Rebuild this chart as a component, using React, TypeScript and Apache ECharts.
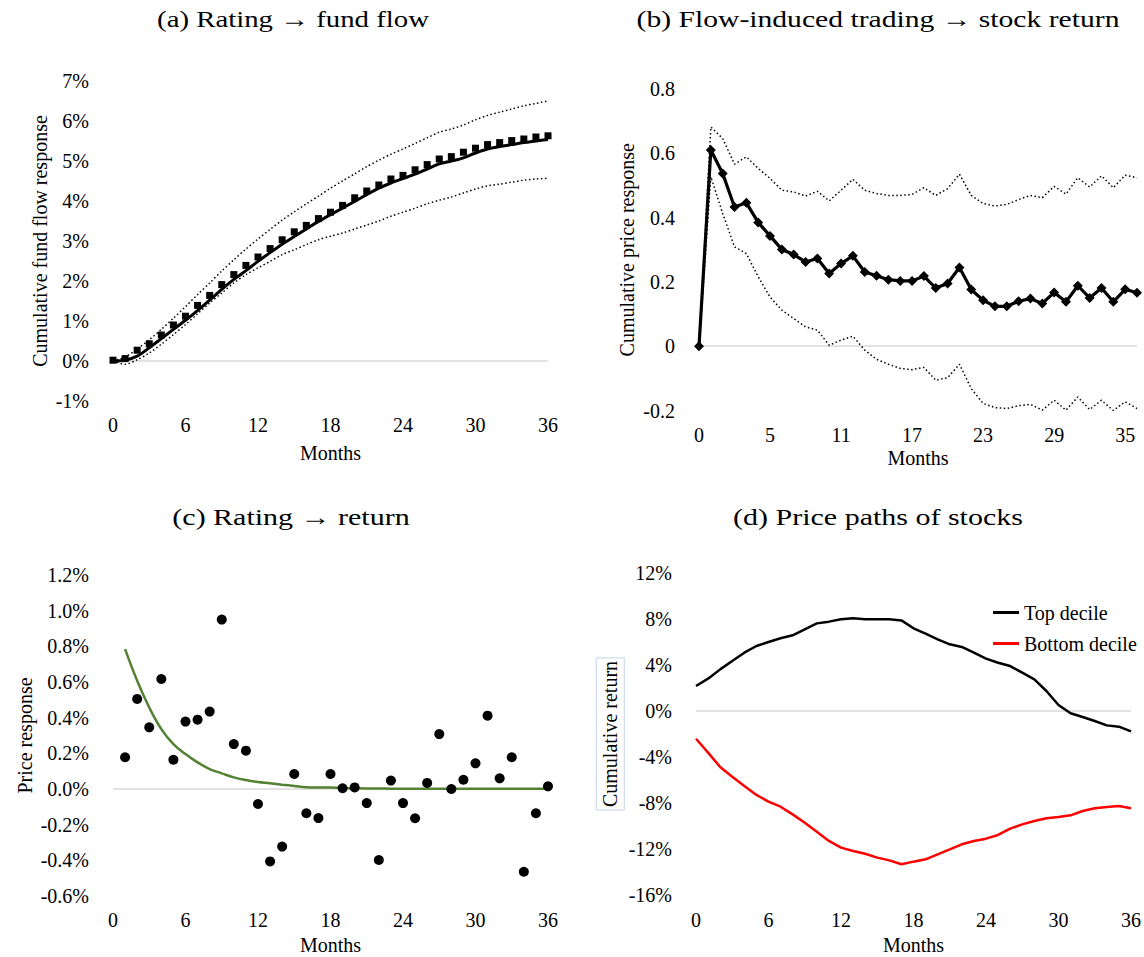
import React, { useEffect, useRef } from "react";
import * as echarts from "echarts";

const FONT = "'Liberation Serif', 'Times New Roman', serif";

// ---- shared month axis
const months = [0, 1, 2, 3, 4, 5, 6, 7, 8, 9, 10, 11, 12, 13, 14, 15, 16, 17, 18, 19, 20, 21, 22, 23, 24, 25, 26, 27, 28, 29, 30, 31, 32, 33, 34, 35, 36];
const monthsFrom1 = months.slice(1);

// ---- (a) Rating -> fund flow (percent)
const flowMarkers = [0.02, 0.06, 0.27, 0.43, 0.65, 0.9, 1.12, 1.39, 1.64, 1.91, 2.16, 2.39, 2.6, 2.81, 3.03, 3.23, 3.39, 3.56, 3.72, 3.89, 4.08, 4.25, 4.4, 4.55, 4.64, 4.78, 4.91, 5.05, 5.11, 5.22, 5.32, 5.41, 5.46, 5.51, 5.55, 5.6, 5.63];
const flowLine = [0, 0.02, 0.12, 0.33, 0.56, 0.79, 1.02, 1.26, 1.52, 1.79, 2.04, 2.26, 2.49, 2.71, 2.92, 3.11, 3.3, 3.49, 3.66, 3.82, 3.99, 4.16, 4.32, 4.45, 4.56, 4.67, 4.8, 4.93, 5.0, 5.08, 5.2, 5.3, 5.36, 5.41, 5.46, 5.5, 5.54];
const flowUpper = [0, 0.1, 0.3, 0.53, 0.79, 1.07, 1.36, 1.66, 1.95, 2.25, 2.53, 2.8, 3.05, 3.29, 3.52, 3.73, 3.93, 4.12, 4.32, 4.5, 4.68, 4.86, 5.02, 5.17, 5.3, 5.44, 5.58, 5.72, 5.8, 5.9, 6.03, 6.14, 6.22, 6.3, 6.38, 6.44, 6.5];
const flowLower = [0, -0.08, 0.03, 0.2, 0.42, 0.66, 0.91, 1.18, 1.45, 1.7, 1.95, 2.16, 2.33, 2.49, 2.66, 2.78, 2.91, 3.03, 3.12, 3.2, 3.3, 3.4, 3.5, 3.62, 3.72, 3.82, 3.93, 4.02, 4.1, 4.2, 4.3, 4.38, 4.42, 4.47, 4.52, 4.55, 4.57];

// ---- (b) Flow-induced trading -> stock return
const tradeCategories = ["0", "0", "1", "2", "3", "4", "5", "6", "7", "8", "9", "10", "11", "12", "13", "14", "15", "16", "17", "18", "19", "20", "21", "22", "23", "24", "25", "26", "27", "28", "29", "30", "31", "32", "33", "34", "35", "36"];
const priceMain = [0, 0.61, 0.537, 0.433, 0.446, 0.385, 0.343, 0.301, 0.285, 0.262, 0.273, 0.226, 0.257, 0.281, 0.231, 0.219, 0.207, 0.203, 0.203, 0.218, 0.181, 0.195, 0.245, 0.176, 0.143, 0.124, 0.124, 0.14, 0.148, 0.133, 0.167, 0.138, 0.188, 0.15, 0.181, 0.138, 0.177, 0.166];
const priceUpper = [0, 0.682, 0.646, 0.566, 0.589, 0.553, 0.522, 0.485, 0.48, 0.467, 0.482, 0.452, 0.485, 0.519, 0.485, 0.475, 0.469, 0.469, 0.472, 0.493, 0.469, 0.49, 0.535, 0.469, 0.444, 0.436, 0.441, 0.456, 0.469, 0.462, 0.497, 0.473, 0.524, 0.495, 0.53, 0.493, 0.532, 0.524];
const priceLower = [0, 0.527, 0.413, 0.309, 0.288, 0.216, 0.153, 0.112, 0.086, 0.06, 0.05, 0.003, 0.019, 0.031, -0.012, -0.041, -0.056, -0.069, -0.073, -0.066, -0.106, -0.098, -0.056, -0.132, -0.178, -0.191, -0.194, -0.185, -0.181, -0.199, -0.168, -0.199, -0.158, -0.197, -0.168, -0.2, -0.173, -0.194];

// ---- (c) Rating -> return (percent), months 1..36
const returnPoints = [0.178, 0.505, 0.346, 0.617, 0.164, 0.378, 0.389, 0.434, 0.95, 0.252, 0.215, -0.084, -0.406, -0.323, 0.084, -0.136, -0.163, 0.084, 0.004, 0.009, -0.079, -0.398, 0.047, -0.079, -0.164, 0.034, 0.308, 0.0, 0.052, 0.144, 0.411, 0.06, 0.178, -0.464, -0.136, 0.015];
const returnFit = [0.784, 0.607, 0.457, 0.336, 0.252, 0.196, 0.149, 0.112, 0.088, 0.065, 0.05, 0.039, 0.032, 0.024, 0.017, 0.01, 0.009, 0.009, 0.006, 0.004, 0.003, 0.003, 0.002, 0.002, 0.002, 0.001, 0.001, 0.001, 0.001, 0.001, 0.001, 0.001, 0.001, 0.001, 0.001, 0.001];

// ---- (d) Price paths of stocks (percent)
const topDecile = [2.17, 2.81, 3.62, 4.35, 5.07, 5.65, 6.0, 6.32, 6.58, 7.1, 7.62, 7.77, 7.97, 8.06, 7.97, 7.97, 7.97, 7.88, 7.19, 6.72, 6.23, 5.8, 5.57, 5.07, 4.55, 4.2, 3.91, 3.33, 2.75, 1.74, 0.52, -0.2, -0.52, -0.87, -1.25, -1.36, -1.77];
const bottomDecile = [-2.41, -3.62, -4.87, -5.71, -6.52, -7.3, -7.88, -8.32, -8.99, -9.71, -10.49, -11.3, -11.88, -12.17, -12.41, -12.75, -12.99, -13.33, -13.1, -12.9, -12.46, -12.03, -11.59, -11.3, -11.1, -10.78, -10.23, -9.86, -9.57, -9.33, -9.22, -9.07, -8.7, -8.46, -8.35, -8.26, -8.46];

const titles = [
  "(a) Rating \u2192 fund flow",
  "(b) Flow-induced trading \u2192 stock return",
  "(c) Rating \u2192 return",
  "(d) Price paths of stocks",
];

const pair = (xs: number[], ys: number[]) => xs.map((x, i) => [x, ys[i]]);

const labelStyle = { fontFamily: FONT, fontSize: 20, color: "#000" };
const dotted = { color: "#000", width: 1.5, type: [1.5, 2.5] as number[] };

function zeroLineSeries(axisIndex: number) {
  return {
    type: "line",
    xAxisIndex: axisIndex,
    yAxisIndex: axisIndex,
    data: [],
    z: 1,
    silent: true,
    markLine: {
      z: 1,
      silent: true,
      symbol: "none",
      label: { show: false },
      lineStyle: { color: "#d9d9d9", width: 1.5, type: "solid" },
      data: [{ yAxis: 0 }],
    },
  };
}

function titleText(text: string, x: number, y: number, scaleX: number) {
  return {
    type: "text",
    x,
    y,
    scaleX,
    style: { text, font: `24px ${FONT}`, fill: "#000", align: "center", verticalAlign: "middle" },
  };
}

function monthXAxis(gridIndex: number, labelMargin: number, nameGap: number) {
  return {
    type: "value",
    gridIndex,
    min: 0,
    max: 36,
    interval: 6,
    splitLine: { show: false },
    axisLine: { show: false },
    axisTick: { show: false },
    axisLabel: { ...labelStyle, margin: labelMargin },
    name: "Months",
    nameLocation: "middle",
    nameGap,
    nameTextStyle: labelStyle,
  };
}

function valueYAxis(gridIndex: number, min: number, max: number, interval: number, fmt: (v: number) => string, name: string, nameGap: number, extraName: any = {}) {
  return {
    type: "value",
    gridIndex,
    min,
    max,
    interval,
    splitLine: { show: false },
    axisLine: { show: false },
    axisTick: { show: false },
    axisLabel: { ...labelStyle, margin: 24, formatter: fmt },
    name,
    nameLocation: "middle",
    nameGap,
    nameTextStyle: { ...labelStyle, ...extraName },
  };
}

const option: any = {
  animation: false,
  backgroundColor: "#fff",
  textStyle: { fontFamily: FONT },
  graphic: [
    titleText(titles[0], 293, 19, 1.2),
    titleText(titles[1], 878, 19, 1.235),
    titleText(titles[2], 291, 517, 1.25),
    titleText(titles[3], 878, 517, 1.25),
  ],
  legend: {
    data: ["Top decile", "Bottom decile"],
    orient: "vertical",
    left: 988,
    top: 597,
    icon: "rect",
    itemWidth: 26,
    itemHeight: 3,
    itemGap: 10,
    textStyle: { ...labelStyle, lineHeight: 21 },
  },
  grid: [
    { left: 113, top: 81, width: 435, height: 320 },
    { left: 699, top: 89, width: 438, height: 321.5 },
    { left: 113, top: 575, width: 435, height: 321 },
    { left: 696, top: 573, width: 437, height: 322 },
  ],
  xAxis: [
    monthXAxis(0, 14, 42),
    {
      type: "category",
      gridIndex: 1,
      data: tradeCategories,
      boundaryGap: false,
      axisLine: { show: false },
      axisTick: { show: false },
      splitLine: { show: false },
      axisLabel: { ...labelStyle, margin: 14, interval: 5 },
      name: "Months",
      nameLocation: "middle",
      nameGap: 37,
      nameTextStyle: labelStyle,
    },
    monthXAxis(2, 14, 39),
    monthXAxis(3, 15, 40),
  ],
  yAxis: [
    valueYAxis(0, -1, 7, 1, (v) => `${Math.round(v)}%`, "Cumulative fund flow response", 63),
    valueYAxis(1, -0.2, 0.8, 0.2, (v) => (Math.abs(v) < 1e-9 ? "0" : v.toFixed(1)), "Cumulative price response", 62),
    valueYAxis(2, -0.6, 1.2, 0.2, (v) => `${(Math.abs(v) < 1e-9 ? 0 : v).toFixed(1)}%`, "Price response", 78),
    valueYAxis(3, -16, 12, 4, (v) => `${Math.round(v)}%`, "Cumulative return", 70, {
      borderColor: "#c5d3ea",
      borderWidth: 1,
      padding: [4, 3, 4, 3],
    }),
  ],
  series: [
    zeroLineSeries(0),
    zeroLineSeries(1),
    zeroLineSeries(2),
    zeroLineSeries(3),
    // (a)
    { type: "line", xAxisIndex: 0, yAxisIndex: 0, data: pair(months, flowUpper), smooth: 0.3, showSymbol: false, lineStyle: dotted, z: 2 },
    { type: "line", xAxisIndex: 0, yAxisIndex: 0, data: pair(months, flowLower), smooth: 0.3, showSymbol: false, lineStyle: dotted, z: 2 },
    { type: "line", xAxisIndex: 0, yAxisIndex: 0, data: pair(months, flowLine), smooth: 0.3, showSymbol: false, lineStyle: { color: "#000", width: 3 }, z: 3 },
    { type: "scatter", xAxisIndex: 0, yAxisIndex: 0, data: pair(months, flowMarkers), symbol: "rect", symbolSize: 7, itemStyle: { color: "#000", opacity: 1 }, z: 4 },
    // (b)
    { type: "line", xAxisIndex: 1, yAxisIndex: 1, data: priceUpper, showSymbol: false, lineStyle: dotted, z: 2 },
    { type: "line", xAxisIndex: 1, yAxisIndex: 1, data: priceLower, showSymbol: false, lineStyle: dotted, z: 2 },
    { type: "line", xAxisIndex: 1, yAxisIndex: 1, data: priceMain, symbol: "diamond", symbolSize: 10, showAllSymbol: true, itemStyle: { color: "#000", opacity: 1 }, lineStyle: { color: "#000", width: 3.2 }, z: 3 },
    // (c)
    { type: "line", xAxisIndex: 2, yAxisIndex: 2, data: pair(monthsFrom1, returnFit), smooth: 0.4, showSymbol: false, lineStyle: { color: "#548235", width: 2.5 }, z: 3 },
    { type: "scatter", xAxisIndex: 2, yAxisIndex: 2, data: pair(monthsFrom1, returnPoints), symbol: "circle", symbolSize: 10, itemStyle: { color: "#000", opacity: 1 }, z: 4 },
    // (d)
    { name: "Top decile", type: "line", xAxisIndex: 3, yAxisIndex: 3, data: pair(months, topDecile), showSymbol: false, itemStyle: { color: "#000" }, lineStyle: { color: "#000", width: 2.5 }, z: 3 },
    { name: "Bottom decile", type: "line", xAxisIndex: 3, yAxisIndex: 3, data: pair(months, bottomDecile), showSymbol: false, itemStyle: { color: "#ff0000" }, lineStyle: { color: "#ff0000", width: 2.5 }, z: 3 },
  ],
};

export default function App() {
  const ref = useRef<HTMLDivElement>(null);
  useEffect(() => {
    document.body.style.margin = "0";
    const chart = echarts.init(ref.current as HTMLDivElement, null, { renderer: "svg" });
    chart.setOption(option);
    return () => chart.dispose();
  }, []);
  return <div ref={ref} style={{ width: 1144, height: 957, background: "#fff" }} />;
}
